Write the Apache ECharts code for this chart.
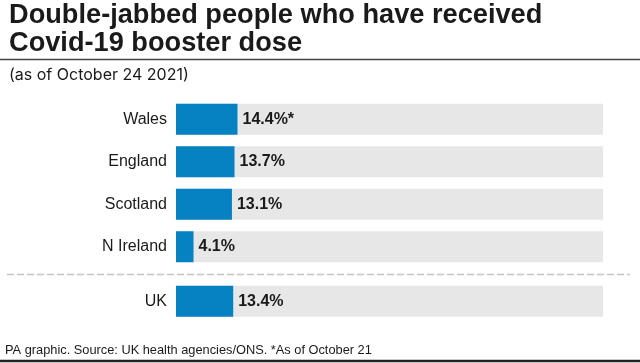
<!DOCTYPE html>
<html>
<head>
<meta charset="utf-8">
<script src="https://cdn.jsdelivr.net/npm/echarts@6/dist/echarts.min.js"></script>
<style>html,body{margin:0;padding:0;background:#fff}#c{width:640px;height:363px}</style>
</head>
<body>
<div id="c"></div>
<script>
const nationCategories = ['Wales', 'England', 'Scotland', 'N Ireland'];
const nationValues = [14.4, 13.7, 13.1, 4.1];
const nationNotes = ['*', '', '', ''];
const ukCategories = ['UK'];
const ukValues = [13.4];
const ukNotes = [''];

const FONT = '"Liberation Sans", Arial, sans-serif';
const SFONT = 'Inter, "Liberation Sans", sans-serif';
const BLUE = '#0681c1';
const GREY = '#e7e7e7';
const TEXT = '#1a1a1a';

function barSeries(idx, values, notes) {
  return {
    type: 'bar',
    xAxisIndex: idx,
    yAxisIndex: idx,
    data: values,
    barWidth: 31,
    itemStyle: { color: BLUE },
    showBackground: true,
    backgroundStyle: { color: GREY },
    label: {
      show: true,
      position: 'right',
      distance: 5,
      fontFamily: FONT,
      fontSize: 16,
      fontWeight: 'bold',
      color: TEXT,
      formatter: p => p.value.toFixed(1) + '%' + notes[p.dataIndex]
    },
    silent: true
  };
}

function yAx(idx, cats) {
  return {
    type: 'category',
    gridIndex: idx,
    data: cats,
    inverse: true,
    axisLine: { show: false },
    axisTick: { show: false },
    axisLabel: { fontFamily: FONT, fontSize: 16, color: TEXT, margin: 9 }
  };
}
function xAx(idx) {
  return { type: 'value', gridIndex: idx, min: 0, max: 100, show: false };
}

const chart = echarts.init(document.getElementById('c'), null, { renderer: 'canvas' });
chart.setOption({
  animation: false,
  backgroundColor: '#fff',
  title: [
    {
      text: 'Double-jabbed people who have received\nCovid-19 booster dose',
      left: 9, top: 2, padding: 0,
      textStyle: { fontFamily: FONT, fontSize: 27.2, fontWeight: 'bold', color: TEXT, lineHeight: 28 }
    },
    {
      text: '(as of October 24 2021)',
      left: 9, top: 67, padding: 0,
      textStyle: { fontFamily: SFONT, fontSize: 16, fontWeight: 'normal', color: TEXT }
    },
    {
      text: 'PA graphic. Source: UK health agencies/ONS. *As of October 21',
      left: 5, top: 344, padding: 0,
      textStyle: { fontFamily: FONT, fontSize: 12.8, fontWeight: 'normal', color: TEXT }
    }
  ],
  grid: [
    { left: 176, right: 37, top: 98, height: 170 },
    { left: 176, right: 37, top: 280, height: 42.5 }
  ],
  xAxis: [xAx(0), xAx(1)],
  yAxis: [yAx(0, nationCategories), yAx(1, ukCategories)],
  series: [barSeries(0, nationValues, nationNotes), barSeries(1, ukValues, ukNotes)],
  graphic: [
    { type: 'line', shape: { x1: 0, y1: 59.5, x2: 640, y2: 59.5 }, style: { stroke: '#444', lineWidth: 1.5 } },
    { type: 'line', shape: { x1: 7, y1: 274.5, x2: 630, y2: 274.5 }, style: { stroke: '#c4c4c4', lineWidth: 1.5, lineDash: [7, 3] } },
    { type: 'line', shape: { x1: 0, y1: 361, x2: 640, y2: 361 }, style: { stroke: '#222', lineWidth: 2.5 } }
  ]
});
</script>
</body>
</html>
